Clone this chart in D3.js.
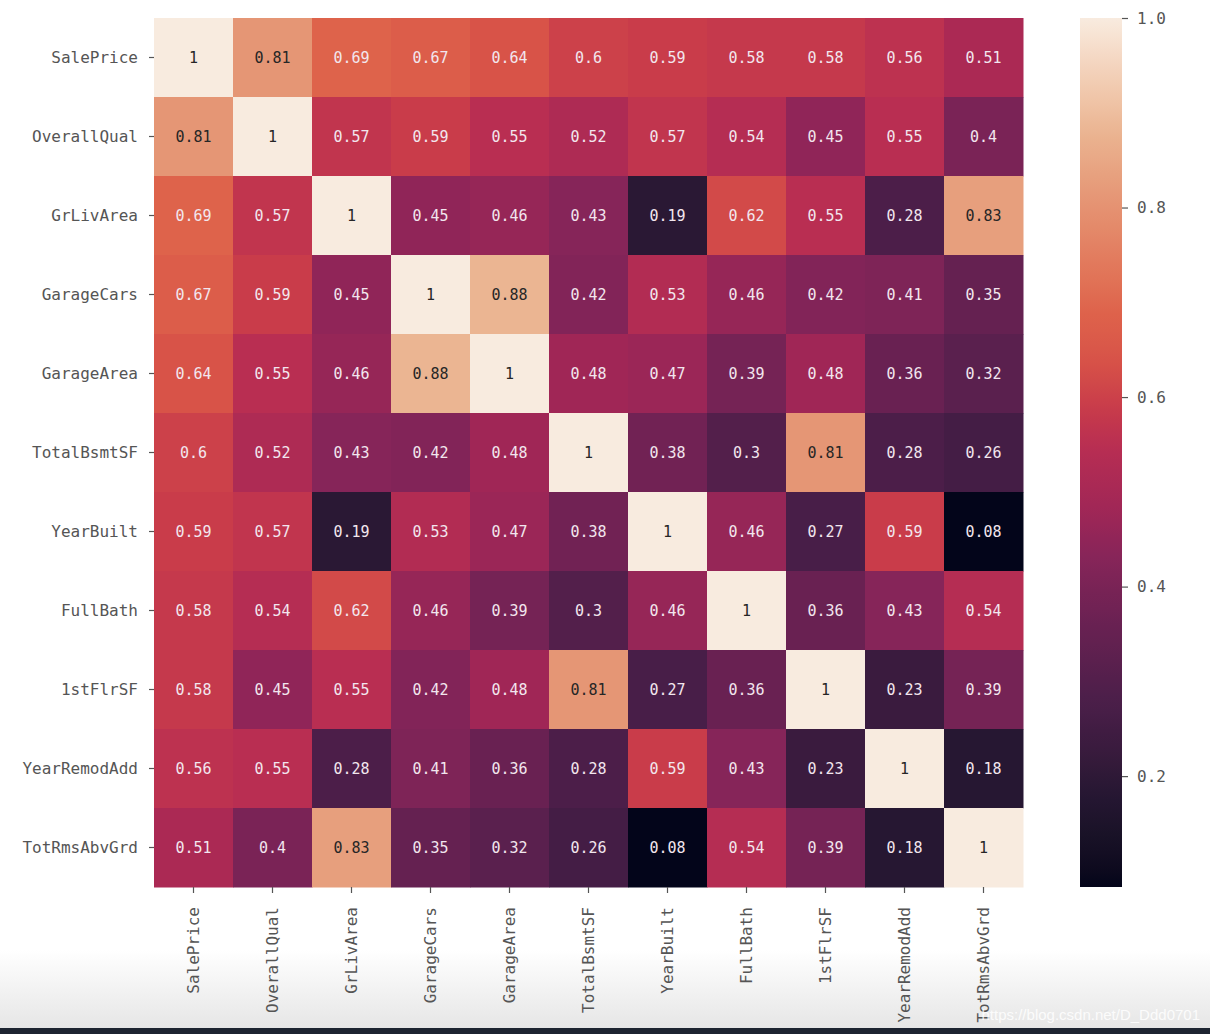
<!DOCTYPE html>
<html>
<head>
<meta charset="utf-8">
<script src="https://cdn.jsdelivr.net/npm/d3@7"></script>
<style>
  html, body { margin: 0; padding: 0; background: #ffffff; }
  svg { display: block; }
</style>
</head>
<body>
<svg id="chart" width="1210" height="1034"></svg>
<script>
// ---- data ----
const categories = ["SalePrice", "OverallQual", "GrLivArea", "GarageCars", "GarageArea",
  "TotalBsmtSF", "YearBuilt", "FullBath", "1stFlrSF", "YearRemodAdd", "TotRmsAbvGrd"];

const rowSalePrice    = [1, 0.81, 0.69, 0.67, 0.64, 0.6, 0.59, 0.58, 0.58, 0.56, 0.51];
const rowOverallQual  = [0.81, 1, 0.57, 0.59, 0.55, 0.52, 0.57, 0.54, 0.45, 0.55, 0.4];
const rowGrLivArea    = [0.69, 0.57, 1, 0.45, 0.46, 0.43, 0.19, 0.62, 0.55, 0.28, 0.83];
const rowGarageCars   = [0.67, 0.59, 0.45, 1, 0.88, 0.42, 0.53, 0.46, 0.42, 0.41, 0.35];
const rowGarageArea   = [0.64, 0.55, 0.46, 0.88, 1, 0.48, 0.47, 0.39, 0.48, 0.36, 0.32];
const rowTotalBsmtSF  = [0.6, 0.52, 0.43, 0.42, 0.48, 1, 0.38, 0.3, 0.81, 0.28, 0.26];
const rowYearBuilt    = [0.59, 0.57, 0.19, 0.53, 0.47, 0.38, 1, 0.46, 0.27, 0.59, 0.08];
const rowFullBath     = [0.58, 0.54, 0.62, 0.46, 0.39, 0.3, 0.46, 1, 0.36, 0.43, 0.54];
const row1stFlrSF     = [0.58, 0.45, 0.55, 0.42, 0.48, 0.81, 0.27, 0.36, 1, 0.23, 0.39];
const rowYearRemodAdd = [0.56, 0.55, 0.28, 0.41, 0.36, 0.28, 0.59, 0.43, 0.23, 1, 0.18];
const rowTotRmsAbvGrd = [0.51, 0.4, 0.83, 0.35, 0.32, 0.26, 0.08, 0.54, 0.39, 0.18, 1];

const matrix = [rowSalePrice, rowOverallQual, rowGrLivArea, rowGarageCars, rowGarageArea,
  rowTotalBsmtSF, rowYearBuilt, rowFullBath, row1stFlrSF, rowYearRemodAdd, rowTotRmsAbvGrd];

const colorbarTicks = [0.2, 0.4, 0.6, 0.8, 1.0];
const colorbarMin = 0.083;
const colorbarMax = 1.0;

// rocket-like colormap, calibrated to the reference's rendered colours
const colorStopValues = [0.083, 0.18, 0.23, 0.27, 0.36, 0.43, 0.48, 0.55, 0.59, 0.64, 0.69, 0.81, 0.88, 1.0];
const colorStopColors = ["#03051a", "#261732", "#3a1b3e", "#481e48", "#692152", "#862559", "#a02656",
  "#b92e52", "#c93c4a", "#d85348", "#de634b", "#e59675", "#ebb592", "#f8ebdf"];

// ---- layout ----
const svg = d3.select("#chart");
const W = 1210, H = 1034;
const hm = { left: 154, top: 18, size: 869 };
const cb = { left: 1080, width: 42, top: 18, bottom: 887 };
const monoFont = "'DejaVu Sans Mono', 'Liberation Mono', monospace";

// background frame (bottom gradient of screenshot)
const defs = svg.append("defs");
const bgGrad = defs.append("linearGradient").attr("id", "bgGrad")
  .attr("x1", 0).attr("y1", 0).attr("x2", 0).attr("y2", 1);
bgGrad.append("stop").attr("offset", "0%").attr("stop-color", "#ffffff");
bgGrad.append("stop").attr("offset", "100%").attr("stop-color", "#e6e6e6");
svg.append("rect").attr("x", 0).attr("y", 950).attr("width", W).attr("height", 78).attr("fill", "url(#bgGrad)");
svg.append("rect").attr("x", 0).attr("y", 1028).attr("width", W).attr("height", 6).attr("fill", "#1d2431");

// scales
const x = d3.scaleBand().domain(categories).range([hm.left, hm.left + hm.size]);
const y = d3.scaleBand().domain(categories).range([hm.top, hm.top + hm.size]);

const color = d3.scaleLinear().domain(colorStopValues).range(colorStopColors)
  .interpolate(d3.interpolateLab).clamp(true);

function luminance(c) {
  const rgb = d3.rgb(c);
  const f = u => { u = u / 255; return u <= 0.03928 ? u / 12.92 : Math.pow((u + 0.055) / 1.055, 2.4); };
  return 0.2126 * f(rgb.r) + 0.7152 * f(rgb.g) + 0.0722 * f(rgb.b);
}

const cells = [];
matrix.forEach((row, i) => row.forEach((v, j) => cells.push({ r: categories[i], c: categories[j], v })));

const g = svg.append("g");
g.selectAll("rect.cell").data(cells).enter().append("rect")
  .attr("class", "cell")
  .attr("x", d => x(d.c))
  .attr("y", d => y(d.r))
  .attr("width", x.bandwidth() + 0.5)
  .attr("height", y.bandwidth() + 0.5)
  .attr("fill", d => color(d.v));

g.selectAll("text.annot").data(cells).enter().append("text")
  .attr("class", "annot")
  .attr("x", d => x(d.c) + x.bandwidth() / 2)
  .attr("y", d => y(d.r) + y.bandwidth() / 2)
  .attr("text-anchor", "middle")
  .attr("dominant-baseline", "central")
  .attr("font-family", monoFont)
  .attr("font-size", 15)
  .attr("fill", d => luminance(color(d.v)) > 0.3 ? "#262626" : "#f2e6ee")
  .text(d => String(+d.v.toFixed(2)));

// axes
const axisColor = "#555555";
const leftAxis = svg.append("g").attr("transform", `translate(${hm.left},0)`)
  .call(d3.axisLeft(y).tickSize(5).tickPadding(11));
const bottomAxis = svg.append("g").attr("transform", `translate(0,${hm.top + hm.size})`)
  .call(d3.axisBottom(x).tickSize(6).tickPadding(0));

[leftAxis, bottomAxis].forEach(a => {
  a.select(".domain").remove();
  a.selectAll(".tick line").attr("stroke", axisColor).attr("stroke-width", 1.2);
  a.selectAll(".tick text").attr("fill", axisColor).attr("font-family", monoFont).attr("font-size", 16);
});
bottomAxis.selectAll(".tick text")
  .attr("text-anchor", "end")
  .attr("dy", "0.35em")
  .attr("transform", "translate(0,20) rotate(-90)")
  .attr("x", 0).attr("y", 0);

// colorbar
const cbScale = d3.scaleLinear().domain([colorbarMin, colorbarMax]).range([cb.bottom, cb.top]);
const cbGrad = defs.append("linearGradient").attr("id", "cbGrad")
  .attr("x1", 0).attr("y1", 1).attr("x2", 0).attr("y2", 0);
d3.range(0, 1.0001, 0.02).forEach(t => {
  cbGrad.append("stop").attr("offset", (t * 100) + "%")
    .attr("stop-color", color(colorbarMin + t * (colorbarMax - colorbarMin)));
});
svg.append("rect")
  .attr("x", cb.left).attr("y", cb.top)
  .attr("width", cb.width).attr("height", cb.bottom - cb.top)
  .attr("fill", "url(#cbGrad)");

const cbAxis = svg.append("g").attr("transform", `translate(${cb.left + cb.width},0)`)
  .call(d3.axisRight(cbScale).tickValues(colorbarTicks).tickFormat(d3.format(".1f")).tickSize(6).tickPadding(9));
cbAxis.select(".domain").remove();
cbAxis.selectAll(".tick line").attr("stroke", axisColor).attr("stroke-width", 1.2);
cbAxis.selectAll(".tick text").attr("fill", axisColor).attr("font-family", monoFont).attr("font-size", 16);

// watermark
svg.append("text")
  .attr("x", 1200).attr("y", 1020)
  .attr("text-anchor", "end")
  .attr("font-family", "'Liberation Sans', Arial, sans-serif")
  .attr("font-size", 15)
  .attr("fill", "#ffffff")
  .attr("fill-opacity", 0.85)
  .text("https://blog.csdn.net/D_Ddd0701");
</script>
</body>
</html>
